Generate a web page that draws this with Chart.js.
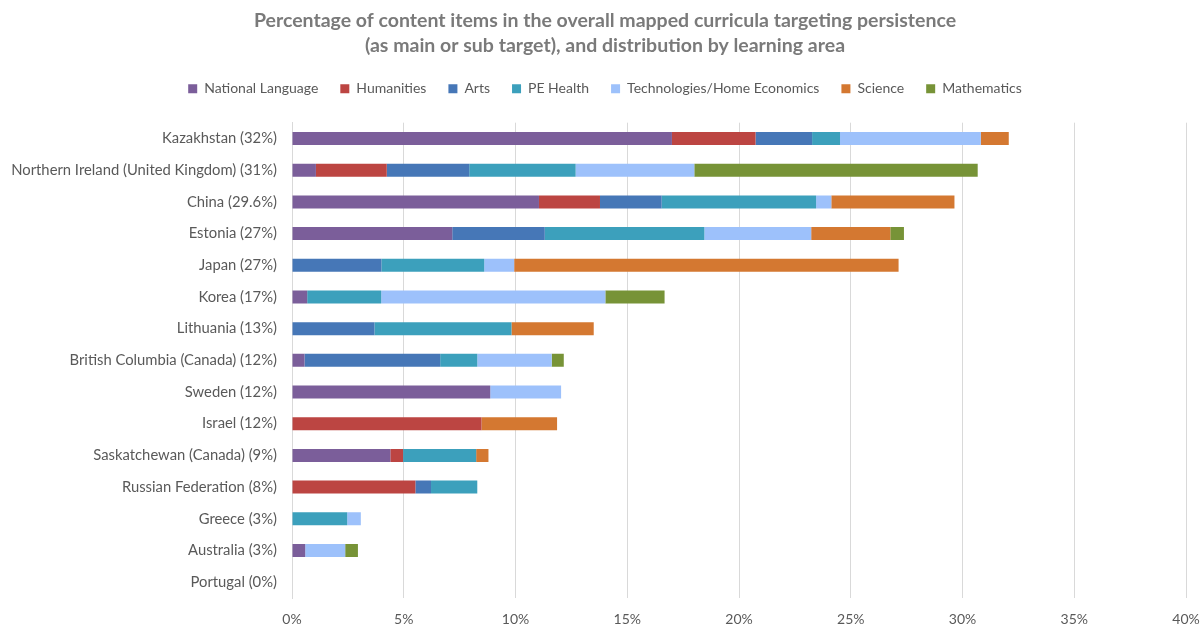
<!DOCTYPE html>
<html>
<head>
<meta charset="utf-8">
<script src="https://cdn.jsdelivr.net/npm/chart.js@4"></script>
<style>
  html, body { margin: 0; padding: 0; background: #ffffff; }
  #wrap { width: 1200px; height: 626px; }
</style>
</head>
<body>
<div id="wrap"><canvas id="c" width="1200" height="626"></canvas></div>
<script>
// Countries (with overall share of content items targeting persistence)
const countries = [
  'Kazakhstan (32%)',
  'Northern Ireland (United Kingdom) (31%)',
  'China (29.6%)',
  'Estonia (27%)',
  'Japan (27%)',
  'Korea (17%)',
  'Lithuania (13%)',
  'British Columbia (Canada) (12%)',
  'Sweden (12%)',
  'Israel (12%)',
  'Saskatchewan (Canada) (9%)',
  'Russian Federation (8%)',
  'Greece (3%)',
  'Australia (3%)',
  'Portugal (0%)'
];

// Share (%) of content items by learning area, per country
const nationalLanguage = [17.0, 1.07, 11.05, 7.17, 0, 0.68, 0, 0.56, 8.87, 0, 4.40, 0, 0, 0.59, 0];
const humanities       = [3.74, 3.17, 2.73, 0, 0, 0, 0, 0, 0, 8.48, 0.57, 5.52, 0, 0, 0];
const arts             = [2.53, 3.69, 2.76, 4.14, 4.0, 0, 3.69, 6.07, 0, 0, 0, 0.70, 0, 0, 0];
const peHealth         = [1.25, 4.76, 6.91, 7.14, 4.6, 3.31, 6.13, 1.66, 0, 0, 3.27, 2.07, 2.47, 0, 0];
const technologies     = [6.30, 5.31, 0.68, 4.78, 1.34, 10.03, 0, 3.33, 3.17, 0, 0, 0, 0.61, 1.79, 0];
const science          = [1.25, 0, 5.51, 3.54, 17.2, 0, 3.68, 0, 0, 3.38, 0.55, 0, 0, 0, 0];
const mathematics      = [0, 12.68, 0, 0.61, 0, 2.65, 0, 0.54, 0, 0, 0, 0, 0, 0.57, 0];

const xTicks = [0, 5, 10, 15, 20, 25, 30, 35, 40];

const series = [
  { label: 'National Language', data: nationalLanguage, color: '#7b5e9a' },
  { label: 'Humanities', data: humanities, color: '#bc4542' },
  { label: 'Arts', data: arts, color: '#4677b7' },
  { label: 'PE Health', data: peHealth, color: '#3ca0bc' },
  { label: 'Technologies/Home Economics', data: technologies, color: '#9dc1fb' },
  { label: 'Science', data: science, color: '#d47831' },
  { label: 'Mathematics', data: mathematics, color: '#779337' }
];

const FONT = "Lato, 'Open Sans', sans-serif";

// Leaves extra room between the legend row and the plot area
const legendGap = {
  id: 'legendGap',
  beforeLayout(chart) {
    const lg = chart.legend;
    if (lg && !lg._gapPatched) {
      const fit = lg.fit.bind(lg);
      lg.fit = function () { fit(); this.height += 17; };
      lg._gapPatched = true;
    }
  }
};

new Chart(document.getElementById('c'), {
  type: 'bar',
  data: {
    labels: countries,
    datasets: series.map(s => ({
      label: s.label,
      data: s.data,
      backgroundColor: s.color,
      borderWidth: 0,
      inflateAmount: 0,
      barThickness: 13
    }))
  },
  plugins: [legendGap],
  options: {
    indexAxis: 'y',
    responsive: false,
    animation: false,
    devicePixelRatio: 1,
    layout: { padding: { left: 10, right: 0, top: 5, bottom: 0 } },
    plugins: {
      title: {
        display: true,
        text: [
          'Percentage of content items in the overall mapped curricula targeting persistence',
          '(as main or sub target), and distribution by learning area'
        ],
        color: '#7a7a7a',
        font: { family: FONT, size: 19.5, weight: 'bold', lineHeight: 1.3 },
        padding: { top: 3, bottom: 1 }
      },
      legend: {
        position: 'top',
        labels: {
          color: '#595959',
          font: { family: FONT, size: 14 },
          boxWidth: 9,
          boxHeight: 9,
          padding: 22
        }
      },
      tooltip: { enabled: false }
    },
    scales: {
      x: {
        stacked: true,
        min: 0,
        max: 40,
        afterBuildTicks: (scale) => { scale.ticks = xTicks.map(v => ({ value: v })); },
        afterFit: (scale) => { scale.height = 28; scale.paddingLeft = 0; scale.paddingRight = 14; },
        ticks: {
          color: '#595959',
          font: { family: FONT, size: 14 },
          callback: (v) => v + '%',
          padding: 13
        },
        grid: { color: '#d9d9d9', lineWidth: 1, drawTicks: false },
        border: { display: false }
      },
      y: {
        stacked: true,
        afterFit: (scale) => { scale.width = 282; },
        ticks: {
          color: '#595959',
          font: { family: FONT, size: 14.8 },
          padding: 15
        },
        grid: { display: false, drawTicks: false },
        border: { display: true, color: '#d9d9d9', width: 1 }
      }
    }
  }
});
</script>
</body>
</html>
